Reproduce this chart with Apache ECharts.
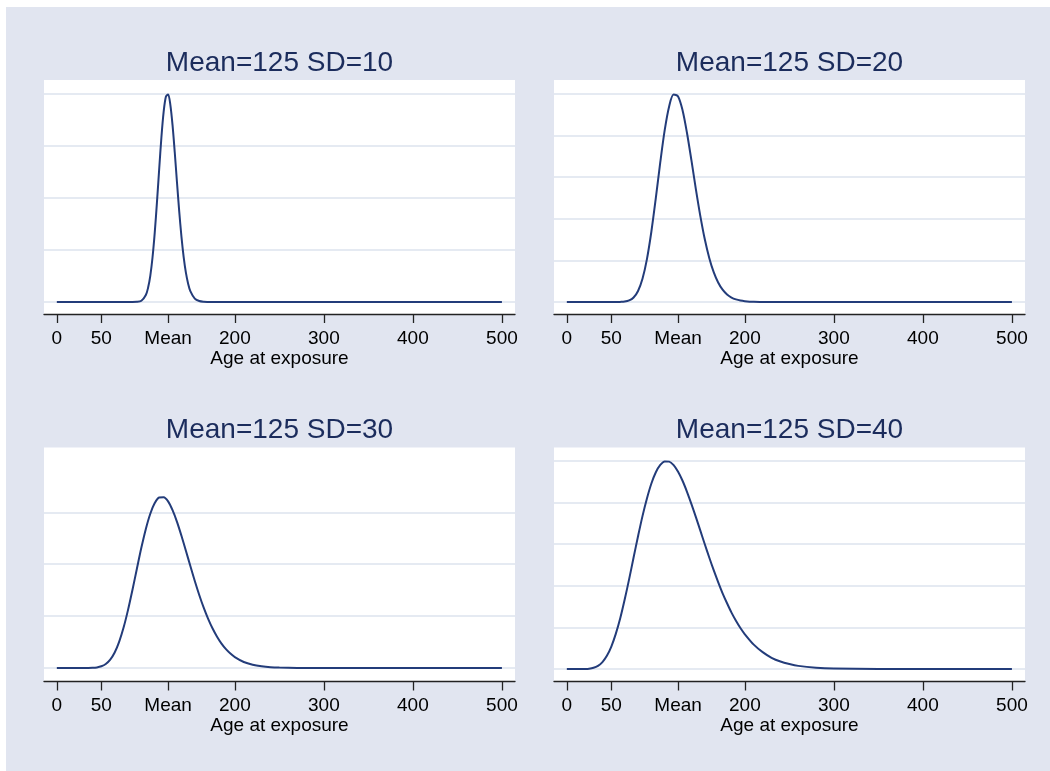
<!DOCTYPE html>
<html>
<head>
<meta charset="utf-8">
<script src="https://cdn.jsdelivr.net/npm/echarts@6/dist/echarts.min.js"></script>
<style>
  html, body { margin: 0; padding: 0; background: #ffffff; }
  #wrap { position: relative; width: 1050px; height: 771px; background: #ffffff; overflow: hidden; }
  #region { position: absolute; left: 6px; top: 7px; right: 0; bottom: 0; background: #E1E5F0; }
  #chart { position: absolute; left: 0; top: 0; width: 1050px; height: 771px; }
</style>
</head>
<body>
<div id="wrap">
  <div id="region"></div>
  <div id="chart"></div>
</div>
<script>
// Axis ticks shared by all four panels
const ageTicks = [0, 50, 125, 200, 300, 400, 500];
const ageTickLabels = ['0', '50', 'Mean', '200', '300', '400', '500'];
const axisTitle = 'Age at exposure';

const panelTitles = ['Mean=125 SD=10', 'Mean=125 SD=20', 'Mean=125 SD=30', 'Mean=125 SD=40'];

// Horizontal reference lines (density) per panel
const gridSD10 = [0, 0.01, 0.02, 0.03, 0.04];
const gridSD20 = [0, 0.004, 0.008, 0.012, 0.016, 0.02];
const gridSD30 = [0, 0.004, 0.008, 0.012];
const gridSD40 = [0, 0.002, 0.004, 0.006, 0.008, 0.01];

// Density curves: age values and density values
const ageSD10 = [0, 50, 75, 80, 85, 90, 95, 100, 102.5, 105, 107.5, 110, 112.5, 115, 117.5, 120, 122.5, 125, 127.5, 130,
  132.5, 135, 137.5, 140, 142.5, 145, 147.5, 150, 155, 160, 165, 170, 175, 180, 200, 300, 400, 500];
const densSD10 = [0, 0, 0, 0, 0, 0.00003, 0.00024, 0.00134, 0.00272, 0.00503, 0.00855, 0.01333, 0.01917, 0.02554, 0.03164,
  0.03650, 0.03942, 0.03987, 0.03790, 0.03395, 0.02870, 0.02294, 0.01741, 0.01256, 0.00862, 0.00563, 0.00352, 0.00210,
  0.00066, 0.00018, 0.00004, 0.00001, 0, 0, 0, 0, 0, 0];

const ageSD20 = [0, 40, 50, 55, 60, 65, 70, 75, 80, 85, 90, 95, 100, 105, 110, 115, 120, 125, 130, 135, 140, 145, 150,
  155, 160, 165, 170, 175, 180, 185, 190, 195, 200, 210, 220, 230, 300, 400, 500];
const densSD20 = [0, 0, 0, 0.000002, 0.00001, 0.00004, 0.00015, 0.00043, 0.00106, 0.00223, 0.00412, 0.00677, 0.00999,
  0.01342, 0.01652, 0.01880, 0.01992, 0.01974, 0.01841, 0.01623, 0.01359, 0.01082, 0.00825, 0.00602, 0.00423, 0.00286,
  0.00187, 0.00118, 0.00072, 0.00043, 0.00025, 0.00014, 0.00008, 0.00002, 0.00001, 0, 0, 0, 0];

const ageSD30 = [0, 20, 30, 35, 40, 45, 50, 55, 60, 65, 70, 75, 80, 85, 90, 95, 100, 105, 110, 115, 120, 125, 130, 135,
  140, 145, 150, 155, 160, 165, 170, 175, 180, 185, 190, 195, 200, 210, 220, 230, 240, 250, 270, 300, 400, 500];
const densSD30 = [0, 0, 0, 0.000003, 0.000014, 0.000047, 0.000132, 0.000314, 0.00065, 0.00120, 0.00202, 0.00312, 0.00448,
  0.00603, 0.00767, 0.00928, 0.01072, 0.01189, 0.01271, 0.01314, 0.01316, 0.01284, 0.01216, 0.01126, 0.01019, 0.00904,
  0.00786, 0.00671, 0.00563, 0.00465, 0.00379, 0.00304, 0.00241, 0.00188, 0.00145, 0.00111, 0.00084, 0.00046, 0.00025,
  0.00013, 0.00006, 0.00003, 0.000007, 0, 0, 0];

const ageSD40 = [0, 10, 15, 20, 25, 30, 35, 40, 45, 50, 55, 60, 65, 70, 75, 80, 85, 90, 95, 100, 105, 110, 115, 120, 125,
  130, 135, 140, 145, 150, 155, 160, 165, 170, 175, 180, 185, 190, 195, 200, 210, 220, 230, 240, 250, 260, 280, 300, 350,
  400, 500];
const densSD40 = [0, 0, 0, 0.000004, 0.000017, 0.000059, 0.000153, 0.000334, 0.000634, 0.00108, 0.00169, 0.00244, 0.00334,
  0.00432, 0.00536, 0.00638, 0.00735, 0.00820, 0.00892, 0.00946, 0.00981, 0.00998, 0.00997, 0.00980, 0.00948, 0.00905,
  0.00852, 0.00793, 0.00730, 0.00665, 0.00600, 0.00536, 0.00475, 0.00418, 0.00364, 0.00316, 0.00271, 0.00232, 0.00197,
  0.00167, 0.00117, 0.00081, 0.00054, 0.00036, 0.00024, 0.00015, 0.00006, 0.00002, 0, 0, 0];

const FONT = '"Liberation Sans", Arial, Helvetica, sans-serif';
const CURVE = '#233C7A';
const GRIDLINE = '#DDE3EE';
const TITLE = '#1B2C5C';

// Plot-region placement and vertical extent for each panel
const panels = [
  { left: 44,  top: 80,    ages: ageSD10, dens: densSD10, refs: gridSD10, yMin: -0.002304, yMax: 0.042631 },
  { left: 554, top: 80,    ages: ageSD20, dens: densSD20, refs: gridSD20, yMin: -0.001152, yMax: 0.021315 },
  { left: 44,  top: 447.5, ages: ageSD30, dens: densSD30, refs: gridSD30, yMin: -0.00104,  yMax: 0.016994 },
  { left: 554, top: 447.5, ages: ageSD40, dens: densSD40, refs: gridSD40, yMin: -0.000601, yMax: 0.010649 }
];
const PW = 471, PH = 234;

const grids = [], xAxes = [], yAxes = [], series = [], graphics = [];

panels.forEach((p, i) => {
  grids.push({
    left: p.left, top: p.top, width: PW, height: PH,
    show: true, backgroundColor: '#ffffff', borderWidth: 0, containLabel: false
  });
  xAxes.push({
    type: 'value', gridIndex: i, min: -14.4, max: 514.7,
    name: axisTitle, nameLocation: 'middle', nameGap: 35,
    nameTextStyle: { fontFamily: FONT, fontSize: 19, color: '#000000' },
    axisLine: { show: true, onZero: false, lineStyle: { color: '#222222', width: 1.3 } },
    axisTick: { show: true, inside: false, length: 9, customValues: ageTicks,
      lineStyle: { color: '#222222', width: 1.3 } },
    axisLabel: {
      show: true, margin: 15, customValues: ageTicks, hideOverlap: false,
      fontFamily: FONT, fontSize: 19, color: '#000000',
      formatter: v => {
        const k = ageTicks.indexOf(v);
        return k >= 0 ? ageTickLabels[k] : '';
      }
    },
    splitLine: { show: false }
  });
  yAxes.push({
    type: 'value', gridIndex: i, min: p.yMin, max: p.yMax,
    axisLine: { show: false }, axisTick: { show: false }, axisLabel: { show: false },
    splitLine: { show: false }
  });
  // reference lines sit beneath the curve
  series.push({
    type: 'line', xAxisIndex: i, yAxisIndex: i, data: [], z: 1, silent: true,
    markLine: {
      z: 1, silent: true, symbol: 'none', animation: false, precision: 6,
      label: { show: false },
      lineStyle: { color: GRIDLINE, width: 1.6, type: 'solid' },
      data: p.refs.map(v => ({ yAxis: v }))
    }
  });
  series.push({
    type: 'line', xAxisIndex: i, yAxisIndex: i, z: 4,
    data: p.ages.map((a, j) => [a, p.dens[j]]),
    showSymbol: false, symbol: 'none', smooth: 0.3,
    lineStyle: { color: CURVE, width: 2 }
  });
  graphics.push({
    type: 'text', x: p.left + PW / 2, y: p.top - 17,
    style: {
      text: panelTitles[i], x: 0, y: 0, align: 'center', verticalAlign: 'middle',
      font: '28px ' + FONT, fill: TITLE
    }
  });
});

const chart = echarts.init(document.getElementById('chart'), null, { renderer: 'canvas' });
chart.setOption({
  animation: false,
  backgroundColor: 'transparent',
  textStyle: { fontFamily: FONT },
  grid: grids,
  xAxis: xAxes,
  yAxis: yAxes,
  series: series,
  graphic: { elements: graphics }
});
</script>
</body>
</html>
